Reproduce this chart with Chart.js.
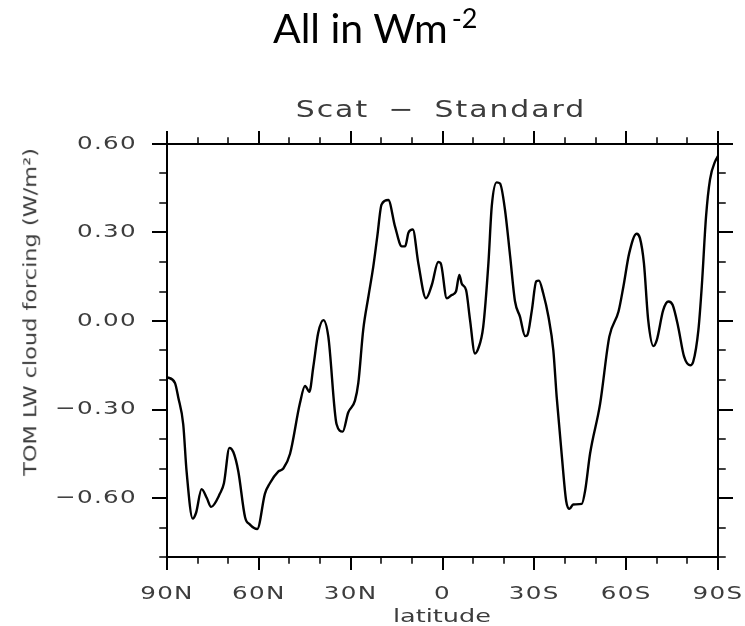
<!DOCTYPE html>
<html>
<head>
<meta charset="utf-8">
<script src="https://cdn.jsdelivr.net/npm/chart.js@4"></script>
<style>
  html, body { margin: 0; padding: 0; background: #fff; }
  #wrap { position: relative; width: 745px; height: 626px; overflow: hidden; }
  #c { position: absolute; left: 0; top: 0; }
  .txt { position: absolute; white-space: nowrap; line-height: 1; }
  #mainTitle { left: 273px; top: 7px; font-family: Lato, "Open Sans", sans-serif; font-size: 41px; color: #000; }
  #mainTitle span { font-size: 27px; position: relative; top: -15px; margin-left: 4px; }
  #subTitle { left: 441px; top: 109px; transform: translate(-50%, -50%) scaleX(1.3); font-family: "DejaVu Sans", sans-serif; font-size: 23px; color: #3c3c3c; letter-spacing: 1.5px; word-spacing: 6px; }
  #yTitle { left: 31px; top: 312px; transform: translate(-50%, -50%) rotate(-90deg) scaleX(1.28); font-family: "DejaVu Sans", sans-serif; font-size: 17.5px; color: #3c3c3c; }
  #xTitle { left: 442px; top: 616px; transform: translate(-50%, -50%) scaleX(1.38); font-family: "DejaVu Sans", sans-serif; font-size: 18.5px; color: #3c3c3c; }
</style>
</head>
<body>
<div id="wrap">
  <canvas id="c" width="745" height="626"></canvas>
  <div class="txt" id="mainTitle">All in Wm<span>-2</span></div>
  <div class="txt" id="subTitle">Scat − Standard</div>
  <div class="txt" id="yTitle">TOM LW cloud forcing (W/m²)</div>
  <div class="txt" id="xTitle">latitude</div>
</div>
<script>
// ---- data (latitude in degrees, north positive; value in W/m^2) ----
const latitudes = [
  90, 87.4, 86.3, 84.7, 83.6, 81.6, 80.5, 78.7, 77.0, 75.6,
  72.7, 71.4, 69.6, 68.3, 66.7, 64.5, 62.9, 60.5, 58.0, 56.4,
  53.6, 52.0, 49.8, 46.6, 44.9, 43.5, 42.2, 40.6, 38.9, 37.3,
  34.6, 32.6, 30.8, 28.6, 27.5, 25.9, 24.2, 22.6, 21.3, 19.9,
  17.7, 15.5, 13.3, 12.2, 11.1, 9.7, 7.9, 5.4, 3.5, 1.4,
  0.6, -1.4, -3.0, -4.4, -5.5, -6.3, -7.7, -9.0, -10.6, -11.7,
  -13.3, -15.0, -16.1, -17.7, -18.8, -20.4, -22.1, -23.7, -25.3, -27.0,
  -27.7, -29.2, -30.6, -31.5, -32.9, -34.6, -36.2, -37.3, -39.0, -40.4,
  -41.5, -42.7, -45.5, -46.6, -48.2, -51.5, -54.5, -57.5, -59.1, -61.0,
  -63.4, -64.5, -65.8, -67.2, -68.9, -70.0, -72.1, -73.8, -75.2, -77.0,
  -78.9, -80.9, -81.9, -83.6, -84.7, -86.1, -87.4, -89.1, -90
];
const lwForcing = [
  -0.19, -0.21, -0.26, -0.35, -0.51, -0.67, -0.65, -0.57, -0.60, -0.63,
  -0.585, -0.55, -0.43, -0.445, -0.51, -0.665, -0.69, -0.705, -0.585, -0.55,
  -0.51, -0.50, -0.45, -0.28, -0.22, -0.24, -0.155, -0.04, 0.003, -0.053,
  -0.35, -0.375, -0.31, -0.27, -0.21, -0.03, 0.083, 0.185, 0.287, 0.395,
  0.41, 0.32, 0.253, 0.253, 0.30, 0.31, 0.196, 0.077, 0.122, 0.20,
  0.196, 0.077, 0.088, 0.10, 0.156, 0.126, 0.105, 0.003, -0.11, -0.093,
  -0.02, 0.196, 0.39, 0.47, 0.466, 0.378, 0.219, 0.066, 0.015, -0.051,
  -0.048, 0.037, 0.134, 0.137, 0.094, 0.015, -0.099, -0.257, -0.46, -0.61,
  -0.637, -0.622, -0.62, -0.575, -0.45, -0.28, -0.053, 0.032, 0.117, 0.23,
  0.296, 0.281, 0.196, 0.003, -0.085, -0.065, 0.037, 0.066, 0.054, -0.02,
  -0.12, -0.15, -0.138, -0.03, 0.117, 0.355, 0.48, 0.542, 0.559
];
const xTickValues = [90, 60, 30, 0, -30, -60, -90];
const xTickLabels = ['90N', '60N', '30N', '0', '30S', '60S', '90S'];
const xMinorTicks = [90, 80, 70, 60, 50, 40, 30, 20, 10, 0, -10, -20, -30, -40, -50, -60, -70, -80, -90];
const yTickValues = [-0.6, -0.3, 0, 0.3, 0.6];
const yTickLabels = ['−0.60', '−0.30', '0.00', '0.30', '0.60'];
const yMinorTicks = [-0.8, -0.7, -0.6, -0.5, -0.4, -0.3, -0.2, -0.1, 0, 0.1, 0.2, 0.3, 0.4, 0.5, 0.6];

const points = latitudes.map((lat, i) => ({ x: lat, y: lwForcing[i] }));

// Wide, lightly spaced tick lettering (the original uses a broad geometric face)
const LS = '1px';
const TEXT_STRETCH = 1.33;
const textStylePlugin = {
  id: 'textStyle',
  beforeInit(chart) {
    const ctx = chart.ctx;
    const origFill = ctx.fillText;
    ctx.fillText = function (text, x, y, maxW) {
      this.save();
      this.translate(x, y);
      this.scale(TEXT_STRETCH, 1);
      if (maxW !== undefined) origFill.call(this, text, 0, 0, maxW / TEXT_STRETCH);
      else origFill.call(this, text, 0, 0);
      this.restore();
    };
  },
  beforeUpdate(chart) { chart.ctx.letterSpacing = LS; },
  beforeDraw(chart) { chart.ctx.letterSpacing = LS; }
};

const frameTicks = {
  id: 'frameTicks',
  afterDraw(chart) {
    const ctx = chart.ctx;
    const { left, right, top, bottom } = chart.chartArea;
    const xs = chart.scales.x, ys = chart.scales.y;
    ctx.save();
    ctx.strokeStyle = '#000';
    ctx.lineCap = 'square';
    ctx.lineWidth = 2;
    ctx.strokeRect(left, top, right - left, bottom - top);
    const isMajor = (arr, v) => arr.some(a => Math.abs(a - v) < 1e-6);
    yMinorTicks.forEach(v => {
      const y = Math.round(ys.getPixelForValue(v));
      const major = isMajor(yTickValues, v);
      const len = major ? 14 : 7;
      ctx.lineWidth = major ? 2 : 1.5;
      ctx.beginPath();
      ctx.moveTo(left - len, y); ctx.lineTo(left, y);
      ctx.moveTo(right, y); ctx.lineTo(right + len, y);
      ctx.stroke();
    });
    xMinorTicks.forEach(v => {
      const x = Math.round(xs.getPixelForValue(v));
      const major = isMajor(xTickValues, v);
      const len = major ? 12 : 6;
      ctx.lineWidth = major ? 2 : 1.5;
      ctx.beginPath();
      ctx.moveTo(x, top - len); ctx.lineTo(x, top);
      ctx.moveTo(x, bottom); ctx.lineTo(x, bottom + len);
      ctx.stroke();
    });
    ctx.restore();
  }
};

new Chart(document.getElementById('c'), {
  type: 'line',
  data: {
    datasets: [{
      data: points,
      borderColor: '#000',
      borderWidth: 2.4,
      pointRadius: 0,
      fill: false,
      tension: 0.4,
      cubicInterpolationMode: 'monotone'
    }]
  },
  options: {
    responsive: false,
    animation: false,
    devicePixelRatio: 1,
    layout: { padding: { top: 144, right: 27, left: 0, bottom: 0 } },
    plugins: { legend: { display: false }, tooltip: { enabled: false }, title: { display: false } },
    scales: {
      x: {
        type: 'linear',
        min: -90, max: 90,
        reverse: true,
        grid: { display: false },
        border: { display: false },
        afterBuildTicks(scale) { scale.ticks = xTickValues.map(v => ({ value: v })); },
        afterFit(scale) { scale.height = 69; scale.paddingLeft = 0; scale.paddingRight = 0; },
        ticks: {
          autoSkip: false,
          maxRotation: 0,
          padding: 18,
          color: '#3c3c3c',
          font: { family: 'DejaVu Sans', size: 18.5 },
          callback(value) {
            const i = xTickValues.indexOf(value);
            return i >= 0 ? xTickLabels[i] : '';
          }
        }
      },
      y: {
        min: -0.8, max: 0.6,
        grid: { display: false },
        border: { display: false },
        afterBuildTicks(scale) { scale.ticks = yTickValues.map(v => ({ value: v })); },
        afterFit(scale) { scale.width = 167; },
        ticks: {
          padding: 22,
          color: '#3c3c3c',
          font: { family: 'DejaVu Sans', size: 18.5 },
          callback(value) {
            const i = yTickValues.findIndex(v => Math.abs(v - value) < 1e-6);
            return i >= 0 ? yTickLabels[i] : '';
          }
        }
      }
    }
  },
  plugins: [textStylePlugin, frameTicks]
});
</script>
</body>
</html>
